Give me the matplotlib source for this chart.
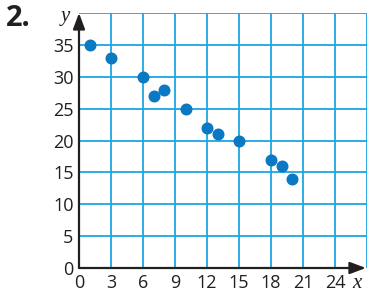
import matplotlib.pyplot as plt
import matplotlib as mpl
mpl.use('Agg')

# data
x_vals = [1, 3, 6, 7, 8, 10, 12, 13, 15, 18, 19, 20]
y_vals = [35, 33, 30, 27, 28, 25, 22, 21, 20, 17, 16, 14]
x_ticks = [0, 3, 6, 9, 12, 15, 18, 21, 24]
y_ticks = [0, 5, 10, 15, 20, 25, 30, 35]

grid_color = '#1ba6e3'
dot_color = '#0a78c2'
font = 'Open Sans'

fig = plt.figure(figsize=(3.68, 2.94), dpi=100)
W, H = 368, 294
x0, y0, x1, y1 = 79, 268, 367, 13
ax = fig.add_axes((x0 / W, (H - y0) / H, (x1 - x0) / W, (y0 - y1) / H))

ax.set_xlim(0, 27)
ax.set_ylim(0, 40)

# grid
for gx in range(3, 28, 3):
    ax.axvline(gx, color=grid_color, lw=1.3, zorder=1)
for gy in range(5, 41, 5):
    ax.axhline(gy, color=grid_color, lw=1.3, zorder=1)

for s in ax.spines.values():
    s.set_visible(False)

# axes with arrows
arrow = dict(arrowstyle='-|>,head_length=0.8,head_width=0.3', color='#231f20',
             lw=1.6, mutation_scale=12, shrinkA=0, shrinkB=0)
ax.annotate('', xy=(26.9, 0), xytext=(0, 0), arrowprops=arrow,
            annotation_clip=False, zorder=3)
ax.annotate('', xy=(0, 40), xytext=(0, 0), arrowprops=arrow,
            annotation_clip=False, zorder=3)

ax.scatter(x_vals, y_vals, s=58, color=dot_color, zorder=4, clip_on=False)

ax.set_xticks(x_ticks)
ax.set_yticks(y_ticks)
ax.tick_params(length=0, pad=4, labelsize=13, labelcolor='#231f20')
for lab in ax.get_xticklabels() + ax.get_yticklabels():
    lab.set_fontfamily(font)

fig.text(357 / W, 1 - 284 / H, 'x', fontsize=15, style='italic',
         family='Liberation Serif', ha='center', va='center', color='#231f20')
fig.text(65 / W, 1 - 16 / H, 'y', fontsize=15, style='italic',
         family='Liberation Serif', ha='center', va='center', color='#231f20')
fig.text(6 / W, 1 - 19 / H, '2.', fontsize=21, weight='bold',
         family=font, ha='left', va='center', color='#231f20')

fig.savefig('out.png', dpi=100)
